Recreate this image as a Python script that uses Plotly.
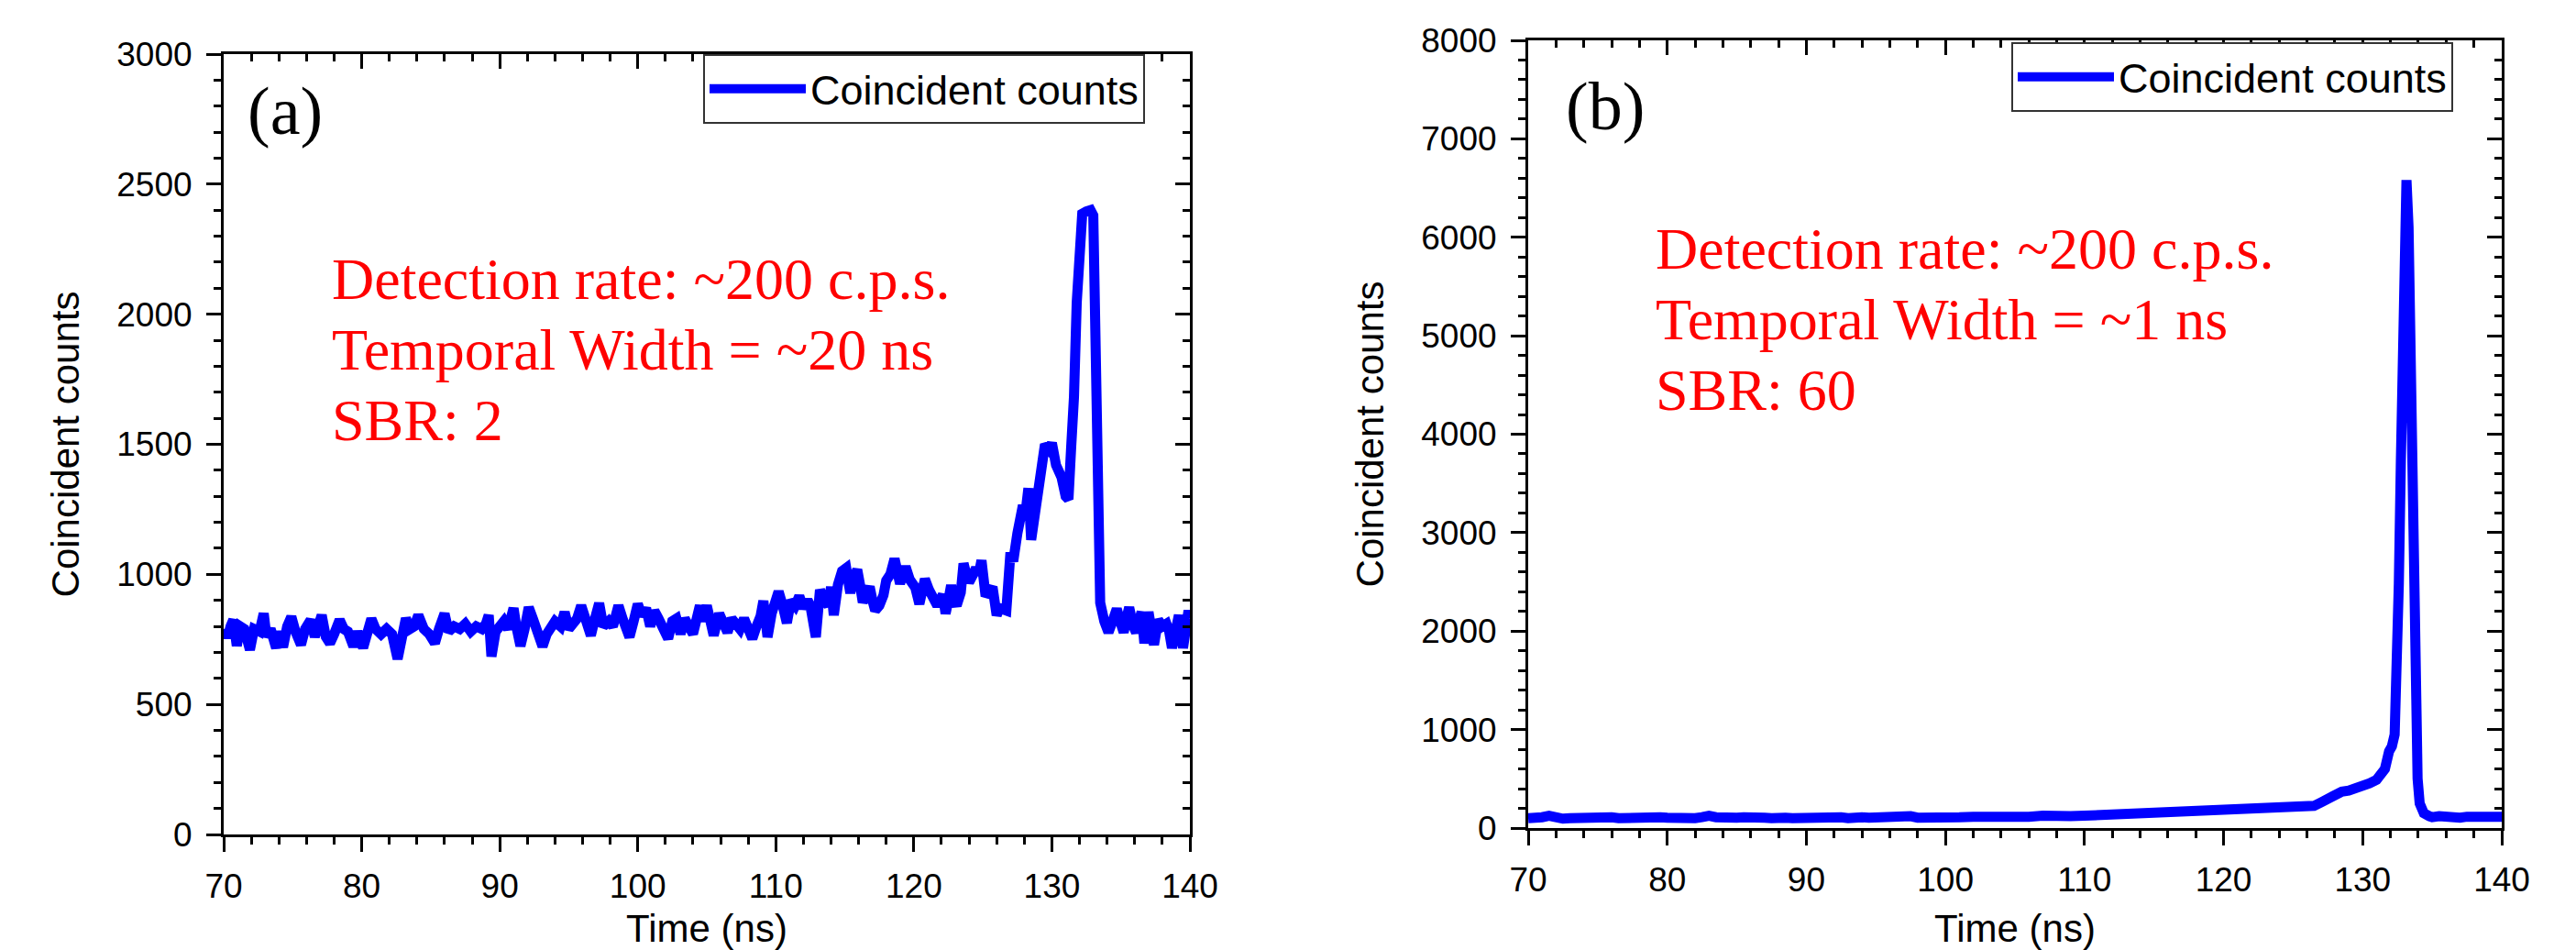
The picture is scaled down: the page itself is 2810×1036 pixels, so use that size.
import plotly.graph_objects as go

# ---------------- data ----------------
time_a = [70.0, 70.3, 70.5, 70.7, 70.95, 71.2, 71.5, 71.9, 72.2, 72.6, 72.9, 73.1, 73.4, 73.8, 74.0, 74.3,
          74.6, 74.9, 75.2, 75.6, 75.9, 76.3, 76.6, 76.8, 77.1, 77.4, 77.7, 78.0, 78.4, 78.7, 79.0, 79.4,
          79.7, 80.1, 80.4, 80.7, 81.0, 81.4, 81.8, 82.2, 82.6, 82.9, 83.2, 83.5, 83.8, 84.1, 84.5, 84.9,
          85.3, 85.6, 86.0, 86.3, 86.7, 87.1, 87.5, 87.9, 88.3, 88.7, 89.0, 89.2, 89.4, 89.7, 90.0, 90.3,
          90.6, 91.0, 91.2, 91.5, 91.8, 92.1, 92.4, 92.7, 93.1, 93.4, 93.7, 94.0, 94.4, 94.7, 95.0, 95.3,
          95.6, 95.9, 96.2, 96.6, 96.9, 97.2, 97.5, 97.9, 98.2, 98.6, 98.9, 99.4, 99.7, 100.0, 100.3, 100.6,
          100.9, 101.2, 101.5, 101.8, 102.2, 102.5, 102.8, 103.1, 103.4, 103.7, 104.0, 104.5, 104.7, 105.0,
          105.3, 105.5, 105.9, 106.2, 106.5, 106.8, 107.1, 107.4, 107.7, 108.0, 108.3, 108.6, 108.9, 109.1,
          109.4, 109.7, 110.0, 110.2, 110.5, 110.8, 111.1, 111.4, 111.7, 112.0, 112.3, 112.5, 112.9, 113.2,
          113.5, 113.8, 114.0, 114.2, 114.5, 114.8, 115.1, 115.4, 115.6, 115.9, 116.1, 116.3, 116.6, 116.8,
          117.0, 117.2, 117.5, 117.8, 118.0, 118.3, 118.6, 118.8, 119.0, 119.2, 119.4, 119.7, 119.9, 120.1,
          120.4, 120.6, 120.8, 121.1, 121.4, 121.7, 122.1, 122.3, 122.5, 122.7, 122.9, 123.1, 123.4, 123.6,
          123.8, 124.0, 124.3, 124.5, 124.7, 124.9, 125.2, 125.4, 125.7, 126.0, 126.2, 126.4, 126.7, 127.0,
          127.2, 127.5, 127.7, 127.9, 128.1, 128.3, 128.5, 128.8, 129.0, 129.2, 129.5, 129.8, 130.0, 130.3,
          130.5, 130.7, 131.0, 131.2, 131.4, 131.6, 131.8, 132.0, 132.2, 132.5, 132.8, 133.0, 133.2, 133.5,
          133.8, 134.1, 134.4, 134.7, 135.0, 135.2, 135.4, 135.6, 135.9, 136.1, 136.3, 136.5, 136.7, 137.0,
          137.2, 137.4, 137.7, 138.0, 138.3, 138.5, 138.7, 138.9, 139.2, 139.5, 139.7, 139.9, 140.0]
counts_a = [790, 760, 800, 825, 725, 800, 790, 710, 790, 780, 850, 760, 790, 717, 780, 720,
            800, 837, 780, 729, 790, 825, 760, 790, 843, 760, 735, 770, 825, 790, 780, 723,
            780, 717, 790, 829, 790, 770, 790, 770, 675, 760, 831, 790, 800, 843, 790, 770,
            735, 790, 849, 780, 800, 790, 810, 780, 800, 790, 810, 843, 684, 780, 800, 820,
            790, 870, 800, 725, 790, 873, 830, 790, 723, 770, 800, 819, 800, 855, 790, 810,
            830, 880, 820, 765, 830, 889, 800, 820, 800, 880, 830, 759, 820, 886, 840, 870,
            800, 860, 830, 795, 753, 820, 830, 771, 830, 800, 771, 880, 820, 880,
            820, 765, 849, 810, 777, 830, 800, 790, 830, 800, 753, 800, 840, 898,
            759, 850, 928, 934, 880, 813, 900, 880, 916, 870, 900, 880, 759, 940,
            900, 880, 952, 843, 960, 1012, 1024, 928, 980, 1018, 960, 892, 930, 952,
            900, 861, 880, 920, 976, 1000, 1060, 1000, 964, 1000, 1030, 980, 964, 950,
            886, 930, 982, 940, 904, 880, 922, 849, 900, 958, 900, 880, 930, 1042,
            1000, 970, 1000, 1024, 1000, 1054, 916, 930, 952, 843, 870, 867, 861, 1084,
            1050, 1157, 1200, 1265, 1240, 1331, 1133, 1265, 1330, 1400, 1500, 1480, 1505, 1420,
            1400, 1373, 1300, 1289, 1491, 1681, 2045, 2250, 2386, 2395, 2400, 2380, 1798, 891,
            819, 777, 820, 867, 810, 777, 830, 873, 800, 777, 820, 855, 735, 855,
            790, 729, 825, 800, 810, 780, 717, 790, 843, 717, 800, 861, 830]

time_b = [70.0, 70.5, 71.0, 71.5, 72.0, 72.5, 73.0, 73.5, 74.0, 74.5, 75.0, 75.5, 76.0, 76.5, 77.0, 77.5,
          78.0, 78.5, 79.0, 79.5, 80.0, 80.5, 81.0, 81.5, 82.0, 82.5, 83.0, 83.5, 84.0, 84.5, 85.0, 85.5,
          86.0, 86.5, 87.0, 87.5, 88.0, 88.5, 89.0, 89.5, 90.0, 90.5, 91.0, 91.5, 92.0, 92.5, 93.0, 93.5,
          94.0, 94.5, 95.0, 95.5, 96.0, 96.5, 97.0, 97.5, 98.0, 98.5, 99.0, 99.5, 100.0, 101.0, 102.0,
          103.0, 104.0, 105.0, 106.0, 107.0, 108.0, 109.0, 110.0, 111.0, 112.0, 113.0, 114.0, 115.0,
          116.0, 117.0, 118.0, 119.0, 120.0, 121.0, 122.0, 123.0, 124.0, 125.0, 126.0, 126.5, 127.0,
          127.5, 128.0, 128.5, 129.0, 129.5, 130.0, 130.5, 131.0, 131.3, 131.6, 131.9, 132.1, 132.3,
          132.45, 132.6, 132.75, 132.9, 133.05, 133.15, 133.3, 133.45, 133.55, 133.65, 133.75, 133.85,
          133.95, 134.1, 134.4, 134.8, 135.0, 135.5, 136.0, 136.5, 137.0, 137.5, 138.0, 138.5, 139.0,
          139.5, 140.0]
counts_b = [100, 95, 110, 125, 100, 95, 100, 105, 110, 100, 105, 100, 110, 100, 105, 100,
            95, 105, 100, 110, 105, 100, 110, 105, 100, 110, 125, 110, 100, 90, 105, 110,
            100, 110, 105, 100, 110, 105, 100, 105, 100, 115, 110, 100, 105, 110, 100, 115,
            110, 105, 110, 100, 110, 105, 110, 120, 105, 110, 115, 110, 105, 110, 115,
            110, 110, 120, 115, 125, 115, 120, 125, 130, 135, 145, 150, 160,
            175, 170, 180, 185, 180, 185, 195, 205, 215, 220, 225, 225, 260,
            300, 350, 370, 380, 400, 425, 455, 490, 540, 600, 780, 830, 950,
            1500, 2480, 3750, 5600, 6450, 6580, 6100, 4800, 3750, 2300, 1500, 900,
            500, 250, 150, 120, 110, 120, 110, 115, 105, 115, 110, 105, 110,
            100, 115]

series_name = "Coincident counts"
x_title = "Time (ns)"
y_title = "Coincident counts"
panel_labels = ["(a)", "(b)"]
notes_a = ["Detection rate: ~200 c.p.s.", "Temporal Width = ~20 ns", "SBR: 2"]
notes_b = ["Detection rate: ~200 c.p.s.", "Temporal Width = ~1 ns", "SBR: 60"]

# ---------------- layout helpers ----------------
OFF = 8                      # page offset of the plot div inside the browser window
W, H = 2810 - OFF, 1036 - OFF
def px_x(p):                 # window pixel -> paper fraction
    return (p - OFF) / W
def px_y(p):
    return (H - (p - OFF)) / H

SANS = "Liberation Sans, Arial, sans-serif"
SERIF = "Liberation Serif, Times New Roman, serif"
BLUE = "#0000FF"
RED = "#FF0000"

fig = go.Figure()
fig.add_trace(go.Scatter(x=time_a, y=counts_a, mode="lines", name=series_name,
                         line=dict(color=BLUE, width=11), xaxis="x", yaxis="y", legend="legend"))
fig.add_trace(go.Scatter(x=time_b, y=counts_b, mode="lines", name=series_name,
                         line=dict(color=BLUE, width=11), xaxis="x2", yaxis="y2", legend="legend2"))
# empty traces so that the mirrored (top/right) tick axes are created
fig.add_trace(go.Scatter(x=[], y=[], xaxis="x3", yaxis="y3", showlegend=False, hoverinfo="skip"))
fig.add_trace(go.Scatter(x=[], y=[], xaxis="x4", yaxis="y4", showlegend=False, hoverinfo="skip"))

tickfont = dict(family=SANS, size=37, color="black")
titlefont = dict(family=SANS, size=42, color="black")

def main_x(domain, anchor):
    return dict(domain=domain, anchor=anchor, range=[70, 140], dtick=10, tick0=0, automargin=False,
                showline=True, linecolor="black", linewidth=3, mirror=True,
                ticks="outside", ticklen=16, tickwidth=3, tickcolor="black",
                minor=dict(dtick=2, ticks="outside", ticklen=8, tickwidth=3, tickcolor="black", showgrid=False),
                showgrid=False, zeroline=False, tickfont=tickfont, ticklabelstandoff=6,
                title=dict(text=x_title, font=titlefont, standoff=32))

def main_y(domain, anchor, rng, dt, mdt):
    return dict(domain=domain, anchor=anchor, range=rng, dtick=dt, tick0=0, automargin=False,
                showline=True, linecolor="black", linewidth=3, mirror=True,
                ticks="outside", ticklen=16, tickwidth=3, tickcolor="black",
                minor=dict(dtick=mdt, ticks="outside", ticklen=8, tickwidth=3, tickcolor="black", showgrid=False),
                showgrid=False, zeroline=False, tickfont=tickfont, ticklabelstandoff=8,
                title=dict(text=y_title, font=titlefont, standoff=28))

def over_x(base, anchor):
    return dict(overlaying=base, anchor=anchor, side="top", range=[70, 140], dtick=10, tick0=0,
                automargin=False,
                ticks="inside", ticklen=16, tickwidth=3, tickcolor="black",
                minor=dict(dtick=2, ticks="inside", ticklen=8, tickwidth=3, tickcolor="black", showgrid=False),
                showticklabels=False, showline=False, showgrid=False, zeroline=False)

def over_y(base, anchor, rng, dt, mdt):
    return dict(overlaying=base, anchor=anchor, side="right", range=rng, dtick=dt, tick0=0,
                automargin=False,
                ticks="inside", ticklen=16, tickwidth=3, tickcolor="black",
                minor=dict(dtick=mdt, ticks="inside", ticklen=8, tickwidth=3, tickcolor="black", showgrid=False),
                showticklabels=False, showline=False, showgrid=False, zeroline=False)

dom_xa = [px_x(244), px_x(1298)]
dom_ya = [px_y(910), px_y(59)]
dom_xb = [px_x(1667), px_x(2729)]
dom_yb = [px_y(903), px_y(44)]

legend_style = dict(font=dict(family=SANS, size=45, color="black"), bgcolor="white",
                    bordercolor="#333333", borderwidth=2, xanchor="left", yanchor="top",
                    itemwidth=105, tracegroupgap=0)

fig.update_layout(
    template="none",
    width=W, height=H, margin=dict(l=0, r=0, t=0, b=0, pad=0, autoexpand=False),
    paper_bgcolor="white", plot_bgcolor="white", showlegend=True,
    xaxis=main_x(dom_xa, "y"),
    yaxis=main_y(dom_ya, "x", [0, 3000], 500, 100),
    xaxis2=main_x(dom_xb, "y2"),
    yaxis2=main_y(dom_yb, "x2", [0, 8000], 1000, 200),
    xaxis3=over_x("x", "y"),
    yaxis3=over_y("y", "x", [0, 3000], 500, 100),
    xaxis4=over_x("x2", "y2"),
    yaxis4=over_y("y2", "x2", [0, 8000], 1000, 200),
    legend=dict(x=px_x(767), y=px_y(59), **legend_style),
    legend2=dict(x=px_x(2194), y=px_y(46), **legend_style),
)

annotations = []
annotations.append(dict(text=panel_labels[0], x=px_x(268), y=px_y(164), xref="paper", yref="paper",
                        xanchor="left", yanchor="bottom", showarrow=False,
                        font=dict(family=SERIF, size=74, color="black")))
annotations.append(dict(text=panel_labels[1], x=px_x(1706), y=px_y(159), xref="paper", yref="paper",
                        xanchor="left", yanchor="bottom", showarrow=False,
                        font=dict(family=SERIF, size=74, color="black")))
for txt, bottom in zip(notes_a, [342, 419, 496]):
    annotations.append(dict(text=txt, x=px_x(360), y=px_y(bottom), xref="paper", yref="paper",
                            xanchor="left", yanchor="bottom", showarrow=False,
                            font=dict(family=SERIF, size=64, color=RED)))
for txt, bottom in zip(notes_b, [309, 386, 463]):
    annotations.append(dict(text=txt, x=px_x(1804), y=px_y(bottom), xref="paper", yref="paper",
                            xanchor="left", yanchor="bottom", showarrow=False,
                            font=dict(family=SERIF, size=64, color=RED)))
fig.update_layout(annotations=annotations)

fig.write_html("out.html")
